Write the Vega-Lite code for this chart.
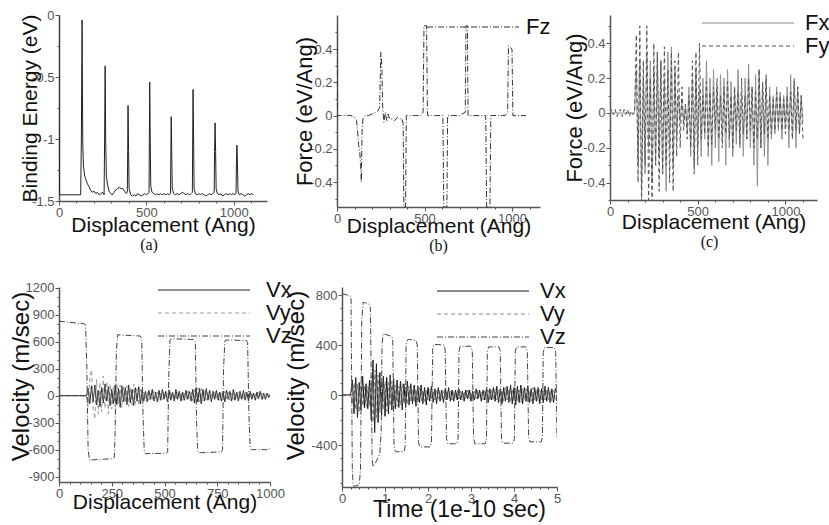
{
"$schema": "https://vega.github.io/schema/vega-lite/v6.json",
"background": "white",
"padding": {"left": 9, "top": 9, "right": 5, "bottom": 5},
"spacing": 24,
"resolve": {"scale": {"x": "independent", "y": "independent", "color": "independent", "strokeDash": "independent"}, "legend": {"color": "independent", "strokeDash": "independent"}},
"datasets": {
"energy": [
{"d":0,"e":0},{"d":3,"e":-1.45},{"d":60,"e":-1.45},{"d":124,"e":-1.45},{"d":128,"e":-1.0},{"d":132,"e":-0.04},{"d":136,"e":-1.05},{"d":140,"e":-1.22},{"d":147,"e":-1.3},{"d":155,"e":-1.33},{"d":162,"e":-1.36},{"d":170,"e":-1.38},{"d":180,"e":-1.41},{"d":190,"e":-1.43},{"d":200,"e":-1.42},{"d":210,"e":-1.44},{"d":220,"e":-1.43},{"d":230,"e":-1.45},{"d":240,"e":-1.44},{"d":250,"e":-1.43},{"d":258,"e":-1.45},{"d":261,"e":-1.0},{"d":264,"e":-0.41},{"d":267,"e":-1.0},{"d":271,"e":-1.3},{"d":278,"e":-1.37},{"d":286,"e":-1.42},{"d":295,"e":-1.44},{"d":305,"e":-1.45},{"d":315,"e":-1.43},{"d":325,"e":-1.41},{"d":335,"e":-1.4},{"d":345,"e":-1.39},{"d":355,"e":-1.4},{"d":365,"e":-1.4},{"d":375,"e":-1.42},{"d":385,"e":-1.44},{"d":391,"e":-1.43},{"d":393,"e":-1.1},{"d":395,"e":-0.73},{"d":398,"e":-1.1},{"d":401,"e":-1.4},{"d":410,"e":-1.45},{"d":420,"e":-1.46},{"d":430,"e":-1.45},{"d":440,"e":-1.46},{"d":450,"e":-1.44},{"d":460,"e":-1.45},{"d":470,"e":-1.46},{"d":480,"e":-1.45},{"d":490,"e":-1.44},{"d":500,"e":-1.45},{"d":510,"e":-1.44},{"d":515,"e":-1.43},{"d":517,"e":-1.0},{"d":519,"e":-0.54},{"d":522,"e":-1.0},{"d":525,"e":-1.38},{"d":532,"e":-1.43},{"d":542,"e":-1.44},{"d":552,"e":-1.45},{"d":562,"e":-1.44},{"d":572,"e":-1.45},{"d":582,"e":-1.44},{"d":592,"e":-1.45},{"d":602,"e":-1.44},{"d":612,"e":-1.45},{"d":622,"e":-1.44},{"d":632,"e":-1.45},{"d":638,"e":-1.44},{"d":640,"e":-1.1},{"d":642,"e":-0.82},{"d":645,"e":-1.1},{"d":648,"e":-1.4},{"d":656,"e":-1.44},{"d":666,"e":-1.45},{"d":676,"e":-1.44},{"d":686,"e":-1.45},{"d":696,"e":-1.44},{"d":706,"e":-1.43},{"d":716,"e":-1.44},{"d":726,"e":-1.45},{"d":736,"e":-1.44},{"d":746,"e":-1.45},{"d":756,"e":-1.44},{"d":763,"e":-1.43},{"d":765,"e":-1.0},{"d":767,"e":-0.6},{"d":770,"e":-1.0},{"d":773,"e":-1.4},{"d":780,"e":-1.44},{"d":790,"e":-1.45},{"d":800,"e":-1.44},{"d":810,"e":-1.45},{"d":820,"e":-1.44},{"d":830,"e":-1.45},{"d":840,"e":-1.46},{"d":850,"e":-1.45},{"d":860,"e":-1.44},{"d":870,"e":-1.45},{"d":880,"e":-1.44},{"d":888,"e":-1.43},{"d":890,"e":-1.1},{"d":893,"e":-0.87},{"d":896,"e":-1.1},{"d":899,"e":-1.4},{"d":906,"e":-1.44},{"d":916,"e":-1.45},{"d":926,"e":-1.44},{"d":936,"e":-1.46},{"d":946,"e":-1.45},{"d":956,"e":-1.44},{"d":966,"e":-1.45},{"d":976,"e":-1.44},{"d":986,"e":-1.45},{"d":996,"e":-1.44},{"d":1006,"e":-1.45},{"d":1013,"e":-1.44},{"d":1015,"e":-1.2},{"d":1018,"e":-1.05},{"d":1021,"e":-1.2},{"d":1024,"e":-1.42},{"d":1032,"e":-1.45},{"d":1042,"e":-1.44},{"d":1052,"e":-1.45},{"d":1062,"e":-1.46},{"d":1072,"e":-1.45},{"d":1082,"e":-1.44},{"d":1092,"e":-1.45},{"d":1102,"e":-1.44},{"d":1112,"e":-1.45}
],
"fz": [
{"d":0,"Fz":0.54},{"d":3,"Fz":0.0},{"d":20,"Fz":0.0},{"d":40,"Fz":0.0},{"d":60,"Fz":0.0},{"d":80,"Fz":0.0},{"d":100,"Fz":-0.01},{"d":112,"Fz":-0.03},{"d":118,"Fz":-0.1},{"d":124,"Fz":-0.18},{"d":130,"Fz":-0.22},{"d":135,"Fz":-0.3},{"d":139,"Fz":-0.4},{"d":143,"Fz":-0.1},{"d":148,"Fz":-0.02},{"d":160,"Fz":0.0},{"d":180,"Fz":0.0},{"d":200,"Fz":0.01},{"d":220,"Fz":0.02},{"d":235,"Fz":0.03},{"d":244,"Fz":0.05},{"d":250,"Fz":0.38},{"d":256,"Fz":0.3},{"d":261,"Fz":0.05},{"d":268,"Fz":-0.04},{"d":276,"Fz":0.02},{"d":284,"Fz":-0.03},{"d":292,"Fz":0.01},{"d":300,"Fz":-0.02},{"d":315,"Fz":-0.02},{"d":330,"Fz":-0.03},{"d":345,"Fz":-0.01},{"d":360,"Fz":-0.02},{"d":372,"Fz":-0.02},{"d":378,"Fz":-0.05},{"d":382,"Fz":-0.55},{"d":392,"Fz":-0.55},{"d":396,"Fz":0.0},{"d":420,"Fz":0.0},{"d":450,"Fz":0.0},{"d":480,"Fz":0.0},{"d":492,"Fz":0.02},{"d":497,"Fz":0.54},{"d":512,"Fz":0.54},{"d":517,"Fz":0.0},{"d":540,"Fz":0.0},{"d":570,"Fz":0.0},{"d":605,"Fz":0.0},{"d":610,"Fz":-0.55},{"d":628,"Fz":-0.55},{"d":632,"Fz":0.0},{"d":660,"Fz":0.0},{"d":700,"Fz":0.0},{"d":733,"Fz":0.02},{"d":737,"Fz":0.54},{"d":745,"Fz":0.54},{"d":749,"Fz":0.0},{"d":780,"Fz":0.0},{"d":820,"Fz":0.0},{"d":850,"Fz":0.0},{"d":855,"Fz":-0.55},{"d":874,"Fz":-0.55},{"d":879,"Fz":0.0},{"d":920,"Fz":0.0},{"d":960,"Fz":0.0},{"d":975,"Fz":0.02},{"d":980,"Fz":0.42},{"d":1000,"Fz":0.4},{"d":1005,"Fz":0.0},{"d":1040,"Fz":0.0},{"d":1080,"Fz":0.0}
],
"fxy": [
{"d":0,"Fx":0,"Fy":0},{"d":10,"Fx":0,"Fy":0.02},{"d":20,"Fx":0,"Fy":-0.01},{"d":30,"Fx":0,"Fy":0.02},{"d":40,"Fx":0,"Fy":-0.02},{"d":50,"Fx":0,"Fy":0.01},{"d":60,"Fx":0,"Fy":0.02},{"d":70,"Fx":0,"Fy":-0.02},{"d":80,"Fx":0,"Fy":0.02},{"d":90,"Fx":0,"Fy":-0.01},{"d":100,"Fx":0,"Fy":0.02},{"d":110,"Fx":0,"Fy":-0.02},{"d":120,"Fx":0,"Fy":0.01},{"d":130,"Fx":0,"Fy":-0.01},{"d":140,"Fx":0,"Fy":0},
{"d":150,"Fx":0.25,"Fy":0.45},{"d":160,"Fx":-0.3,"Fy":-0.4},{"d":170,"Fx":0.3,"Fy":0.5},{"d":180,"Fx":-0.45,"Fy":-0.55},{"d":190,"Fx":0.2,"Fy":0.3},{"d":200,"Fx":-0.35,"Fy":-0.3},{"d":210,"Fx":0.35,"Fy":0.5},{"d":220,"Fx":-0.2,"Fy":-0.5},{"d":230,"Fx":0.3,"Fy":0.2},{"d":240,"Fx":-0.4,"Fy":-0.55},{"d":250,"Fx":0.25,"Fy":0.4},{"d":260,"Fx":-0.3,"Fy":-0.3},{"d":270,"Fx":0.35,"Fy":0.35},{"d":280,"Fx":-0.25,"Fy":-0.45},{"d":290,"Fx":0.3,"Fy":0.3},{"d":300,"Fx":-0.35,"Fy":-0.35},{"d":310,"Fx":0.2,"Fy":0.38},{"d":320,"Fx":-0.45,"Fy":-0.3},{"d":330,"Fx":0.35,"Fy":0.25},{"d":340,"Fx":-0.2,"Fy":-0.4},{"d":350,"Fx":0.38,"Fy":0.35},{"d":360,"Fx":-0.3,"Fy":-0.45},{"d":370,"Fx":0.25,"Fy":0.3},{"d":380,"Fx":-0.15,"Fy":-0.25},{"d":390,"Fx":0.1,"Fy":0.35},{"d":400,"Fx":-0.05,"Fy":-0.2},{"d":410,"Fx":0.08,"Fy":0.15},{"d":420,"Fx":-0.06,"Fy":-0.1},{"d":430,"Fx":0.05,"Fy":0.05},{"d":440,"Fx":-0.1,"Fy":-0.15},{"d":450,"Fx":0.15,"Fy":0.1},{"d":460,"Fx":-0.25,"Fy":-0.2},{"d":470,"Fx":0.2,"Fy":0.3},{"d":480,"Fx":-0.3,"Fy":-0.35},{"d":490,"Fx":0.25,"Fy":0.35},{"d":500,"Fx":-0.2,"Fy":-0.3},{"d":510,"Fx":0.15,"Fy":0.4},
{"d":520,"Fx":-0.25,"Fy":-0.15},{"d":530,"Fx":0.2,"Fy":0.1},{"d":540,"Fx":-0.15,"Fy":-0.12},{"d":550,"Fx":0.3,"Fy":0.18},{"d":560,"Fx":-0.25,"Fy":-0.2},{"d":570,"Fx":0.2,"Fy":0.12},{"d":580,"Fx":-0.3,"Fy":-0.18},{"d":590,"Fx":0.25,"Fy":0.15},{"d":600,"Fx":-0.2,"Fy":-0.1},{"d":610,"Fx":0.15,"Fy":0.2},{"d":620,"Fx":-0.28,"Fy":-0.15},{"d":630,"Fx":0.22,"Fy":0.1},{"d":640,"Fx":-0.15,"Fy":-0.2},{"d":650,"Fx":0.2,"Fy":0.15},{"d":660,"Fx":-0.3,"Fy":-0.12},{"d":670,"Fx":0.25,"Fy":0.18},{"d":680,"Fx":-0.2,"Fy":-0.15},{"d":690,"Fx":0.18,"Fy":0.1},{"d":700,"Fx":-0.25,"Fy":-0.2},{"d":710,"Fx":0.15,"Fy":0.15},{"d":720,"Fx":-0.18,"Fy":-0.1},{"d":730,"Fx":0.25,"Fy":0.12},{"d":740,"Fx":-0.2,"Fy":-0.18},{"d":750,"Fx":0.12,"Fy":0.2},{"d":760,"Fx":-0.25,"Fy":-0.12},{"d":770,"Fx":0.2,"Fy":0.1},{"d":780,"Fx":-0.15,"Fy":-0.15},{"d":790,"Fx":0.28,"Fy":0.2},{"d":800,"Fx":-0.2,"Fy":-0.1},{"d":810,"Fx":0.15,"Fy":0.15},{"d":820,"Fx":-0.3,"Fy":-0.2},{"d":830,"Fx":0.22,"Fy":0.12},{"d":840,"Fx":-0.42,"Fy":-0.15},{"d":850,"Fx":0.25,"Fy":0.25},{"d":860,"Fx":-0.2,"Fy":-0.2},{"d":870,"Fx":0.15,"Fy":0.18},{"d":880,"Fx":-0.25,"Fy":-0.12},{"d":890,"Fx":0.2,"Fy":0.22},{"d":900,"Fx":-0.3,"Fy":-0.15},{"d":910,"Fx":0.15,"Fy":0.1},{"d":920,"Fx":-0.15,"Fy":-0.12},{"d":930,"Fx":0.1,"Fy":0.08},{"d":940,"Fx":-0.12,"Fy":-0.1},{"d":950,"Fx":0.15,"Fy":0.12},{"d":960,"Fx":-0.1,"Fy":-0.08},{"d":970,"Fx":0.12,"Fy":0.1},{"d":980,"Fx":-0.15,"Fy":-0.1},{"d":990,"Fx":0.1,"Fy":0.08},{"d":1000,"Fx":-0.08,"Fy":-0.12},{"d":1010,"Fx":0.15,"Fy":0.1},{"d":1020,"Fx":-0.2,"Fy":-0.1},{"d":1030,"Fx":0.22,"Fy":0.12},{"d":1040,"Fx":-0.15,"Fy":-0.15},{"d":1050,"Fx":0.18,"Fy":0.2},{"d":1060,"Fx":-0.2,"Fy":-0.1},{"d":1070,"Fx":0.15,"Fy":0.15},{"d":1080,"Fx":-0.12,"Fy":-0.12},{"d":1090,"Fx":0.1,"Fy":0.1},{"d":1100,"Fx":-0.05,"Fy":-0.15}
],
"vd": [
{"d":0,"Vx":0,"Vy":0},{"d":130,"Vx":0,"Vy":0},{"d":138,"Vx":80,"Vy":-120},{"d":146,"Vx":-90,"Vy":200},{"d":154,"Vx":110,"Vy":290},{"d":162,"Vx":-70,"Vy":-150},{"d":170,"Vx":120,"Vy":-260},{"d":178,"Vx":-100,"Vy":180},{"d":186,"Vx":60,"Vy":-200},{"d":194,"Vx":-120,"Vy":150},{"d":202,"Vx":90,"Vy":-180},{"d":210,"Vx":-80,"Vy":220},{"d":218,"Vx":130,"Vy":-140},{"d":226,"Vx":-60,"Vy":160},{"d":234,"Vx":100,"Vy":-200},{"d":242,"Vx":-110,"Vy":130},{"d":250,"Vx":70,"Vy":-150},{"d":258,"Vx":-90,"Vy":100},{"d":266,"Vx":120,"Vy":-120},{"d":274,"Vx":-100,"Vy":140},{"d":282,"Vx":80,"Vy":-90},{"d":290,"Vx":-130,"Vy":120},{"d":298,"Vx":110,"Vy":-130},{"d":306,"Vx":-70,"Vy":100},{"d":314,"Vx":90,"Vy":-80},{"d":322,"Vx":-100,"Vy":110},{"d":330,"Vx":120,"Vy":-120},{"d":338,"Vx":-80,"Vy":90},{"d":346,"Vx":70,"Vy":-100},{"d":354,"Vx":-110,"Vy":130},{"d":362,"Vx":90,"Vy":-90},{"d":370,"Vx":-60,"Vy":80},{"d":378,"Vx":100,"Vy":-110},{"d":386,"Vx":-90,"Vy":70},{"d":394,"Vx":70,"Vy":-60},{"d":402,"Vx":-60,"Vy":40},{"d":410,"Vx":50,"Vy":-30},{"d":418,"Vx":-70,"Vy":40},{"d":426,"Vx":60,"Vy":-50},{"d":434,"Vx":-40,"Vy":30},{"d":442,"Vx":70,"Vy":-40},{"d":450,"Vx":-60,"Vy":50},{"d":458,"Vx":40,"Vy":-30},{"d":466,"Vx":-70,"Vy":40},{"d":474,"Vx":60,"Vy":-50},{"d":482,"Vx":-50,"Vy":30},{"d":490,"Vx":70,"Vy":-40},{"d":498,"Vx":-40,"Vy":50},{"d":506,"Vx":50,"Vy":-30},{"d":514,"Vx":-70,"Vy":40},{"d":522,"Vx":60,"Vy":-30},{"d":530,"Vx":-50,"Vy":50},{"d":538,"Vx":40,"Vy":-40},{"d":546,"Vx":-60,"Vy":30},{"d":554,"Vx":70,"Vy":-50},{"d":562,"Vx":-40,"Vy":40},{"d":570,"Vx":50,"Vy":-30},{"d":578,"Vx":-60,"Vy":40},{"d":586,"Vx":40,"Vy":-50},{"d":594,"Vx":-50,"Vy":30},{"d":602,"Vx":60,"Vy":-40},{"d":610,"Vx":-40,"Vy":50},{"d":618,"Vx":50,"Vy":-30},{"d":626,"Vx":-60,"Vy":40},{"d":634,"Vx":70,"Vy":-60},{"d":642,"Vx":-80,"Vy":70},{"d":650,"Vx":90,"Vy":-80},{"d":658,"Vx":-70,"Vy":90},{"d":666,"Vx":80,"Vy":-70},{"d":674,"Vx":-90,"Vy":80},{"d":682,"Vx":70,"Vy":-60},{"d":690,"Vx":-60,"Vy":70},{"d":698,"Vx":80,"Vy":-50},{"d":706,"Vx":-50,"Vy":40},{"d":714,"Vx":60,"Vy":-50},{"d":722,"Vx":-70,"Vy":30},{"d":730,"Vx":50,"Vy":-40},{"d":738,"Vx":-40,"Vy":50},{"d":746,"Vx":60,"Vy":-30},{"d":754,"Vx":-50,"Vy":40},{"d":762,"Vx":40,"Vy":-50},{"d":770,"Vx":-60,"Vy":30},{"d":778,"Vx":50,"Vy":-40},{"d":786,"Vx":-70,"Vy":50},{"d":794,"Vx":60,"Vy":-30},{"d":802,"Vx":-40,"Vy":40},{"d":810,"Vx":50,"Vy":-50},{"d":818,"Vx":-60,"Vy":30},{"d":826,"Vx":70,"Vy":-40},{"d":834,"Vx":-50,"Vy":50},{"d":842,"Vx":40,"Vy":-30},{"d":850,"Vx":-60,"Vy":40},{"d":858,"Vx":50,"Vy":-50},{"d":866,"Vx":-40,"Vy":30},{"d":874,"Vx":60,"Vy":-40},{"d":882,"Vx":-50,"Vy":50},{"d":890,"Vx":40,"Vy":-30},{"d":898,"Vx":-60,"Vy":40},{"d":906,"Vx":50,"Vy":-30},{"d":914,"Vx":-40,"Vy":40},{"d":922,"Vx":30,"Vy":-30},{"d":930,"Vx":-50,"Vy":20},{"d":938,"Vx":40,"Vy":-30},{"d":946,"Vx":-30,"Vy":40},{"d":954,"Vx":50,"Vy":-20},{"d":962,"Vx":-40,"Vy":30},{"d":970,"Vx":30,"Vy":-30},{"d":978,"Vx":-40,"Vy":20},{"d":986,"Vx":30,"Vy":-30},{"d":994,"Vx":-20,"Vy":20},{"d":1000,"Vx":10,"Vy":-10}
],
"vzd": [
{"d":0,"Vz":830},{"d":120,"Vz":800},{"d":126,"Vz":790},{"d":132,"Vz":300},{"d":138,"Vz":-600},{"d":145,"Vz":-720},{"d":150,"Vz":-715},{"d":255,"Vz":-700},{"d":262,"Vz":-690},{"d":266,"Vz":-400},{"d":272,"Vz":500},{"d":278,"Vz":680},{"d":290,"Vz":675},{"d":385,"Vz":665},{"d":392,"Vz":640},{"d":398,"Vz":-200},{"d":404,"Vz":-620},{"d":410,"Vz":-645},{"d":510,"Vz":-640},{"d":515,"Vz":-620},{"d":520,"Vz":200},{"d":526,"Vz":620},{"d":532,"Vz":635},{"d":640,"Vz":625},{"d":646,"Vz":600},{"d":652,"Vz":-300},{"d":658,"Vz":-620},{"d":664,"Vz":-635},{"d":770,"Vz":-625},{"d":775,"Vz":-600},{"d":780,"Vz":300},{"d":786,"Vz":610},{"d":792,"Vz":620},{"d":888,"Vz":615},{"d":894,"Vz":590},{"d":900,"Vz":-200},{"d":906,"Vz":-580},{"d":912,"Vz":-600},{"d":995,"Vz":-600},{"d":1000,"Vz":-580}
],
"ve": [
{"t":0,"Vx":0,"Vy":0},{"t":0.2,"Vx":0,"Vy":0},{"t":0.24,"Vx":120,"Vy":-80},{"t":0.28,"Vx":-150,"Vy":100},{"t":0.32,"Vx":140,"Vy":-120},{"t":0.36,"Vx":-180,"Vy":90},{"t":0.4,"Vx":100,"Vy":-140},{"t":0.44,"Vx":-120,"Vy":110},{"t":0.48,"Vx":150,"Vy":-90},{"t":0.52,"Vx":-100,"Vy":80},{"t":0.56,"Vx":90,"Vy":-100},{"t":0.6,"Vx":-110,"Vy":70},{"t":0.64,"Vx":120,"Vy":-90},{"t":0.68,"Vx":-200,"Vy":150},{"t":0.72,"Vx":280,"Vy":-220},{"t":0.76,"Vx":-300,"Vy":200},{"t":0.8,"Vx":250,"Vy":-180},{"t":0.84,"Vx":-220,"Vy":160},{"t":0.88,"Vx":180,"Vy":-140},{"t":0.92,"Vx":-160,"Vy":130},{"t":0.96,"Vx":150,"Vy":-120},{"t":1.0,"Vx":-170,"Vy":110},{"t":1.04,"Vx":140,"Vy":-130},{"t":1.08,"Vx":-150,"Vy":100},{"t":1.12,"Vx":160,"Vy":-90},{"t":1.16,"Vx":-120,"Vy":110},{"t":1.2,"Vx":130,"Vy":-100},{"t":1.24,"Vx":-110,"Vy":80},{"t":1.28,"Vx":120,"Vy":-90},{"t":1.32,"Vx":-100,"Vy":70},{"t":1.36,"Vx":110,"Vy":-80},{"t":1.4,"Vx":-120,"Vy":90},{"t":1.44,"Vx":90,"Vy":-70},{"t":1.48,"Vx":-100,"Vy":60},{"t":1.52,"Vx":110,"Vy":-80},{"t":1.56,"Vx":-80,"Vy":70},{"t":1.6,"Vx":90,"Vy":-60},{"t":1.64,"Vx":-70,"Vy":50},{"t":1.68,"Vx":80,"Vy":-60},{"t":1.72,"Vx":-90,"Vy":50},{"t":1.76,"Vx":70,"Vy":-40},{"t":1.8,"Vx":-60,"Vy":60},{"t":1.84,"Vx":80,"Vy":-50},{"t":1.88,"Vx":-70,"Vy":40},{"t":1.92,"Vx":60,"Vy":-50},{"t":1.96,"Vx":-80,"Vy":40},{"t":2.0,"Vx":60,"Vy":-40},{"t":2.04,"Vx":-50,"Vy":50},{"t":2.08,"Vx":70,"Vy":-40},{"t":2.12,"Vx":-60,"Vy":30},{"t":2.16,"Vx":50,"Vy":-40},{"t":2.2,"Vx":-70,"Vy":50},{"t":2.24,"Vx":60,"Vy":-30},{"t":2.28,"Vx":-50,"Vy":40},{"t":2.32,"Vx":40,"Vy":-40},{"t":2.36,"Vx":-60,"Vy":30},{"t":2.4,"Vx":50,"Vy":-30},{"t":2.44,"Vx":-40,"Vy":40},{"t":2.48,"Vx":60,"Vy":-30},{"t":2.52,"Vx":-50,"Vy":30},{"t":2.56,"Vx":40,"Vy":-40},{"t":2.6,"Vx":-50,"Vy":30},{"t":2.64,"Vx":40,"Vy":-30},{"t":2.68,"Vx":-40,"Vy":40},{"t":2.72,"Vx":50,"Vy":-30},{"t":2.76,"Vx":-40,"Vy":30},{"t":2.8,"Vx":30,"Vy":-40},{"t":2.84,"Vx":-50,"Vy":30},{"t":2.88,"Vx":40,"Vy":-30},{"t":2.92,"Vx":-30,"Vy":40},{"t":2.96,"Vx":40,"Vy":-30},{"t":3.0,"Vx":-50,"Vy":30},{"t":3.04,"Vx":30,"Vy":-40},{"t":3.08,"Vx":-40,"Vy":30},{"t":3.12,"Vx":50,"Vy":-30},{"t":3.16,"Vx":-30,"Vy":40},{"t":3.2,"Vx":40,"Vy":-30},{"t":3.24,"Vx":-50,"Vy":30},{"t":3.28,"Vx":40,"Vy":-40},{"t":3.32,"Vx":-40,"Vy":40},{"t":3.36,"Vx":50,"Vy":-30},{"t":3.4,"Vx":-60,"Vy":40},{"t":3.44,"Vx":50,"Vy":-50},{"t":3.48,"Vx":-40,"Vy":40},{"t":3.52,"Vx":60,"Vy":-40},{"t":3.56,"Vx":-50,"Vy":50},{"t":3.6,"Vx":70,"Vy":-40},{"t":3.64,"Vx":-60,"Vy":40},{"t":3.68,"Vx":50,"Vy":-50},{"t":3.72,"Vx":-70,"Vy":40},{"t":3.76,"Vx":60,"Vy":-50},{"t":3.8,"Vx":-50,"Vy":60},{"t":3.84,"Vx":70,"Vy":-40},{"t":3.88,"Vx":-60,"Vy":50},{"t":3.92,"Vx":80,"Vy":-60},{"t":3.96,"Vx":-70,"Vy":50},{"t":4.0,"Vx":60,"Vy":-50},{"t":4.04,"Vx":-80,"Vy":60},{"t":4.08,"Vx":70,"Vy":-50},{"t":4.12,"Vx":-60,"Vy":40},{"t":4.16,"Vx":80,"Vy":-60},{"t":4.2,"Vx":-70,"Vy":50},{"t":4.24,"Vx":60,"Vy":-40},{"t":4.28,"Vx":-50,"Vy":50},{"t":4.32,"Vx":70,"Vy":-50},{"t":4.36,"Vx":-60,"Vy":40},{"t":4.4,"Vx":50,"Vy":-50},{"t":4.44,"Vx":-70,"Vy":60},{"t":4.48,"Vx":60,"Vy":-40},{"t":4.52,"Vx":-50,"Vy":50},{"t":4.56,"Vx":60,"Vy":-50},{"t":4.6,"Vx":-70,"Vy":40},{"t":4.64,"Vx":50,"Vy":-50},{"t":4.68,"Vx":-60,"Vy":50},{"t":4.72,"Vx":70,"Vy":-40},{"t":4.76,"Vx":-50,"Vy":50},{"t":4.8,"Vx":60,"Vy":-40},{"t":4.84,"Vx":-60,"Vy":40},{"t":4.88,"Vx":50,"Vy":-50},{"t":4.92,"Vx":-60,"Vy":40},{"t":4.96,"Vx":50,"Vy":-40},{"t":5.0,"Vx":20,"Vy":-20}
],
"vze": [
{"t":0,"Vz":810},{"t":0.18,"Vz":795},{"t":0.21,"Vz":780},{"t":0.24,"Vz":-600},{"t":0.26,"Vz":-720},{"t":0.28,"Vz":-730},{"t":0.4,"Vz":-720},{"t":0.43,"Vz":-600},{"t":0.46,"Vz":600},{"t":0.49,"Vz":740},{"t":0.52,"Vz":740},{"t":0.64,"Vz":725},{"t":0.66,"Vz":700},{"t":0.7,"Vz":-500},{"t":0.72,"Vz":-575},{"t":0.8,"Vz":-530},{"t":0.88,"Vz":-470},{"t":0.91,"Vz":-300},{"t":0.93,"Vz":400},{"t":0.96,"Vz":490},{"t":1.0,"Vz":485},{"t":1.15,"Vz":470},{"t":1.18,"Vz":450},{"t":1.21,"Vz":-400},{"t":1.24,"Vz":-450},{"t":1.26,"Vz":-455},{"t":1.45,"Vz":-450},{"t":1.47,"Vz":-400},{"t":1.49,"Vz":400},{"t":1.52,"Vz":440},{"t":1.55,"Vz":445},{"t":1.72,"Vz":435},{"t":1.75,"Vz":400},{"t":1.78,"Vz":-380},{"t":1.81,"Vz":-415},{"t":2.05,"Vz":-415},{"t":2.08,"Vz":-380},{"t":2.11,"Vz":370},{"t":2.14,"Vz":405},{"t":2.37,"Vz":400},{"t":2.4,"Vz":360},{"t":2.43,"Vz":-350},{"t":2.46,"Vz":-390},{"t":2.67,"Vz":-390},{"t":2.7,"Vz":-350},{"t":2.72,"Vz":350},{"t":2.75,"Vz":390},{"t":3.0,"Vz":390},{"t":3.03,"Vz":350},{"t":3.06,"Vz":-350},{"t":3.09,"Vz":-390},{"t":3.33,"Vz":-390},{"t":3.36,"Vz":-350},{"t":3.38,"Vz":350},{"t":3.41,"Vz":385},{"t":3.65,"Vz":385},{"t":3.68,"Vz":350},{"t":3.71,"Vz":-350},{"t":3.74,"Vz":-385},{"t":3.98,"Vz":-385},{"t":4.01,"Vz":-350},{"t":4.03,"Vz":350},{"t":4.06,"Vz":385},{"t":4.28,"Vz":385},{"t":4.31,"Vz":350},{"t":4.34,"Vz":-340},{"t":4.37,"Vz":-375},{"t":4.63,"Vz":-375},{"t":4.66,"Vz":-340},{"t":4.68,"Vz":340},{"t":4.71,"Vz":380},{"t":4.94,"Vz":380},{"t":4.97,"Vz":340},{"t":5.0,"Vz":-350}
]
},
"vconcat": [
{
"bounds": "flush",
"spacing": 70,
"resolve": {"scale": {"x": "independent", "y": "independent", "color": "independent", "strokeDash": "independent"}, "legend": {"color": "independent", "strokeDash": "independent"}},
"hconcat": [
{
"width": 208, "height": 186,
"title": {"text": "(a)", "dx": -14, "offset": 2},
"data": {"name": "energy"},
"mark": {"type": "line", "color": "#222", "strokeWidth": 1, "clip": true},
"encoding": {
"x": {"field": "d", "type": "quantitative", "scale": {"domain": [0, 1190], "nice": false, "zero": false}, "axis": {"title": "Displacement (Ang)", "values": [0, 100, 200, 300, 400, 500, 600, 700, 800, 900, 1000, 1100], "labelExpr": "datum.value % 500 == 0 ? ''+datum.value : ''", "tickSize": {"condition": {"test": "datum.value % 500 == 0", "value": 4}, "value": 2}, "titleY": 24, "titleBaseline": "middle"}},
"y": {"field": "e", "type": "quantitative", "scale": {"domain": [-1.5, 0], "nice": false, "zero": false}, "axis": {"title": "Binding Energy (eV)", "values": [-1.5, -1.25, -1, -0.75, -0.5, -0.25, 0], "labelExpr": "datum.value % 0.5 == 0 ? ''+datum.value : ''", "tickSize": {"condition": {"test": "datum.value % 0.5 == 0", "value": 4}, "value": 2}, "titlePadding": -9}}
}
},
{
"width": 203, "height": 192,
"title": {"text": "(b)", "offset": 2},
"data": {"name": "fz"},
"transform": [{"fold": ["Fz"], "as": ["s", "v"]}],
"mark": {"type": "line", "strokeWidth": 1, "clip": true},
"encoding": {
"x": {"field": "d", "type": "quantitative", "scale": {"domain": [0, 1160], "nice": false, "zero": false}, "axis": {"title": "Displacement (Ang)", "values": [0, 100, 200, 300, 400, 500, 600, 700, 800, 900, 1000, 1100], "labelExpr": "datum.value % 500 == 0 ? ''+datum.value : ''", "tickSize": {"condition": {"test": "datum.value % 500 == 0", "value": 4}, "value": 2}, "titleY": 19, "titleBaseline": "middle"}},
"y": {"field": "v", "type": "quantitative", "scale": {"domain": [-0.55, 0.605], "nice": false, "zero": false}, "axis": {"title": "Force (eV/Ang)", "titleFontSize": 22, "values": [-0.5, -0.4, -0.3, -0.2, -0.1, 0, 0.1, 0.2, 0.3, 0.4, 0.5], "labelExpr": "datum.value == -0.4 || datum.value == -0.2 || datum.value == 0 || datum.value == 0.2 || datum.value == 0.4 ? ''+datum.value : ''", "tickSize": {"condition": {"test": "datum.value == -0.4 || datum.value == -0.2 || datum.value == 0 || datum.value == 0.2 || datum.value == 0.4", "value": 4}, "value": 2}, "titlePadding": -7}},
"color": {"field": "s", "type": "nominal", "scale": {"domain": ["Fz"], "range": ["#333333"]}, "legend": {"title": null, "orient": "none", "legendX": 124, "legendY": 0, "labelOffset": 41}},
"strokeDash": {"field": "s", "type": "nominal", "scale": {"domain": ["Fz"], "range": [[6, 2, 1, 2]]}, "legend": {"title": null, "orient": "none", "legendX": 124, "legendY": 0, "labelOffset": 41}}
}
},
{
"width": 207, "height": 185,
"title": {"text": "(c)", "dx": -4, "offset": 2},
"data": {"name": "fxy"},
"transform": [{"fold": ["Fx", "Fy"], "as": ["s", "v"]}],
"mark": {"type": "line", "strokeWidth": 1, "clip": true},
"encoding": {
"x": {"field": "d", "type": "quantitative", "scale": {"domain": [0, 1180], "nice": false, "zero": false}, "axis": {"title": "Displacement (Ang)", "values": [0, 100, 200, 300, 400, 500, 600, 700, 800, 900, 1000, 1100], "labelExpr": "datum.value % 500 == 0 ? ''+datum.value : ''", "tickSize": {"condition": {"test": "datum.value % 500 == 0", "value": 4}, "value": 2}, "titleY": 22, "titleBaseline": "middle"}},
"y": {"field": "v", "type": "quantitative", "scale": {"domain": [-0.5, 0.563], "nice": false, "zero": false}, "axis": {"title": "Force (eV/Ang)", "titleFontSize": 22, "values": [-0.5, -0.4, -0.3, -0.2, -0.1, 0, 0.1, 0.2, 0.3, 0.4, 0.5], "labelExpr": "datum.value == -0.4 || datum.value == -0.2 || datum.value == 0 || datum.value == 0.2 || datum.value == 0.4 ? ''+datum.value : ''", "tickSize": {"condition": {"test": "datum.value == -0.4 || datum.value == -0.2 || datum.value == 0 || datum.value == 0.2 || datum.value == 0.4", "value": 4}, "value": 2}, "titlePadding": -4}},
"color": {"field": "s", "type": "nominal", "scale": {"domain": ["Fx", "Fy"], "range": ["#8a8a8a", "#555555"]}, "legend": {"title": null, "orient": "none", "legendX": 126, "legendY": -4, "labelOffset": 45}},
"strokeDash": {"field": "s", "type": "nominal", "scale": {"domain": ["Fx", "Fy"], "range": [[1, 0], [4, 3]]}, "legend": {"title": null, "orient": "none", "legendX": 126, "legendY": -4, "labelOffset": 45}}
}
}
]
},
{
"bounds": "flush",
"spacing": 72,
"resolve": {"scale": {"x": "independent", "y": "independent", "color": "independent", "strokeDash": "independent"}, "legend": {"color": "independent", "strokeDash": "independent"}},
"hconcat": [
{
"width": 211, "height": 195,
"encoding": {
"x": {"field": "d", "type": "quantitative", "scale": {"domain": [0, 1000], "nice": false, "zero": false}, "axis": {"title": "Displacement (Ang)", "values": [0, 50, 100, 150, 200, 250, 300, 350, 400, 450, 500, 550, 600, 650, 700, 750, 800, 850, 900, 950, 1000], "labelExpr": "datum.value % 250 == 0 ? ''+datum.value : ''", "tickSize": {"condition": {"test": "datum.value % 250 == 0", "value": 4}, "value": 2}, "titleY": 20, "titleBaseline": "middle"}},
"y": {"field": "v", "type": "quantitative", "scale": {"domain": [-960, 1210], "nice": false, "zero": false}, "axis": {"title": "Velocity (m/sec)", "titleFontSize": 24, "values": [-900, -800, -700, -600, -500, -400, -300, -200, -100, 0, 100, 200, 300, 400, 500, 600, 700, 800, 900, 1000, 1100, 1200], "labelExpr": "datum.value % 300 == 0 ? ''+datum.value : ''", "tickSize": {"condition": {"test": "datum.value % 300 == 0", "value": 4}, "value": 2}, "titlePadding": -8, "titleY": 89}},
"color": {"field": "s", "type": "nominal", "scale": {"domain": ["Vx", "Vy", "Vz"], "range": ["#222222", "#999999", "#444444"]}, "legend": {"title": null, "orient": "none", "legendX": 133, "legendY": -9, "labelOffset": 50}},
"strokeDash": {"field": "s", "type": "nominal", "scale": {"domain": ["Vx", "Vy", "Vz"], "range": [[1, 0], [4, 3], [6, 2, 1, 2]]}, "legend": {"title": null, "orient": "none", "legendX": 133, "legendY": -9, "labelOffset": 50}}
},
"layer": [
{"data": {"name": "vd"}, "transform": [{"fold": ["Vy", "Vx"], "as": ["s", "v"]}], "mark": {"type": "line", "strokeWidth": 1, "clip": true}},
{"data": {"name": "vzd"}, "transform": [{"fold": ["Vz"], "as": ["s", "v"]}], "mark": {"type": "line", "strokeWidth": 1, "clip": true}}
]
},
{
"width": 215, "height": 200,
"encoding": {
"x": {"field": "t", "type": "quantitative", "scale": {"domain": [0, 5], "nice": false, "zero": false}, "axis": {"title": "Time (1e-10 sec)", "titleFontSize": 23, "values": [0, 0.2, 0.4, 0.6, 0.8, 1, 1.2, 1.4, 1.6, 1.8, 2, 2.2, 2.4, 2.6, 2.8, 3, 3.2, 3.4, 3.6, 3.8, 4, 4.2, 4.4, 4.6, 4.8, 5], "labelExpr": "datum.value % 1 == 0 ? ''+datum.value : ''", "tickSize": {"condition": {"test": "datum.value % 1 == 0", "value": 4}, "value": 2}, "titleY": 22, "titleX": 117, "titleBaseline": "middle"}},
"y": {"field": "v", "type": "quantitative", "scale": {"domain": [-736, 864], "nice": false, "zero": false}, "axis": {"title": "Velocity (m/sec)", "titleFontSize": 24, "values": [-700, -600, -500, -400, -300, -200, -100, 0, 100, 200, 300, 400, 500, 600, 700, 800], "labelExpr": "datum.value % 400 == 0 ? ''+datum.value : ''", "tickSize": {"condition": {"test": "datum.value % 400 == 0", "value": 4}, "value": 2}, "titlePadding": 2, "titleY": 88}},
"color": {"field": "s", "type": "nominal", "scale": {"domain": ["Vx", "Vy", "Vz"], "range": ["#111111", "#888888", "#444444"]}, "legend": {"title": null, "orient": "none", "legendX": 129, "legendY": -8, "labelOffset": 45}},
"strokeDash": {"field": "s", "type": "nominal", "scale": {"domain": ["Vx", "Vy", "Vz"], "range": [[1, 0], [4, 3], [6, 2, 1, 2]]}, "legend": {"title": null, "orient": "none", "legendX": 129, "legendY": -8, "labelOffset": 45}}
},
"layer": [
{"data": {"name": "ve"}, "transform": [{"fold": ["Vy", "Vx"], "as": ["s", "v"]}], "mark": {"type": "line", "strokeWidth": 1, "clip": true}},
{"data": {"name": "vze"}, "transform": [{"fold": ["Vz"], "as": ["s", "v"]}], "mark": {"type": "line", "strokeWidth": 1, "clip": true}}
]
}
]
}
],
"config": {
"view": {"stroke": null},
"font": "Liberation Sans",
"axis": {"grid": false, "domainColor": "#555555", "domainWidth": 1.5, "tickColor": "#555555", "labelFont": "Liberation Sans", "labelFontSize": 13, "labelColor": "#555555", "labelPadding": 1, "labelOverlap": false, "labelFlush": false, "titleFont": "Liberation Sans", "titleFontSize": 21, "titleFontWeight": "normal", "titleColor": "#111111"},
"legend": {"symbolType": "M-4,0H4", "symbolSize": 529, "symbolStrokeWidth": 1, "symbolFillColor": "transparent", "labelFont": "Liberation Sans", "labelFontSize": 22, "labelColor": "#111111", "rowPadding": 0},
"title": {"orient": "bottom", "font": "Liberation Serif", "fontSize": 16, "fontWeight": "normal", "color": "#111111", "anchor": "middle"}
}
}
